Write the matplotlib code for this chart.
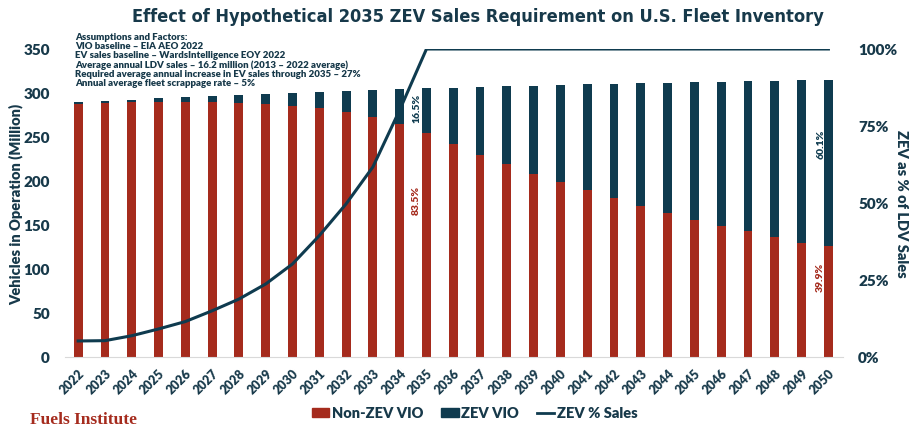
import numpy as np
import matplotlib
matplotlib.use('Agg')
import matplotlib.pyplot as plt
from matplotlib.patches import Patch
from matplotlib.lines import Line2D
from matplotlib import font_manager

plt.rcParams['font.family'] = ['Lato', 'DejaVu Sans']

# 数据: 年份, 非ZEV存量, ZEV存量 (百万辆), ZEV销量占比 (%)
years = list(range(2022, 2051))
non_zev_vio = [287.3, 288.8, 289.5, 290.0, 290.0, 289.5, 289.0, 288.0, 285.0, 282.7,
               278.0, 272.8, 264.8, 254.9, 242.0, 230.0, 219.0, 208.0, 198.8, 189.3,
               180.3, 171.6, 164.0, 156.0, 148.9, 143.2, 136.0, 129.6, 125.6]
zev_vio = [2.2, 2.6, 3.0, 4.0, 6.0, 7.5, 9.0, 11.0, 15.5, 18.9,
           24.7, 31.1, 39.8, 50.4, 63.7, 76.8, 88.6, 100.4, 110.4, 120.6,
           130.4, 139.4, 147.8, 156.2, 163.6, 170.1, 178.0, 184.8, 189.2]
zev_pct_sales = [5.2, 5.3, 6.9, 9.1, 11.5, 15.0, 18.8, 23.7, 30.2, 39.4,
                 49.7, 61.7, 80.2, 100, 100, 100, 100, 100, 100, 100,
                 100, 100, 100, 100, 100, 100, 100, 100, 100]
notes = ['Assumptions and Factors:',
         'VIO baseline \u2013 EIA AEO 2022',
         'EV sales baseline \u2013 WardsIntelligence EOY 2022',
         'Average annual LDV sales \u2013 16.2 million (2013 \u2013 2022 average)',
         'Required average annual increase in EV sales through 2035 \u2013 27%',
         'Annual average fleet scrappage rate \u2013 5%']

RED = '#A52B1D'
NAVY = '#0F3B4F'
TXT = '#17394A'
W = 'heavy'  # 参考图字体很粗

# 标题用窄体字
names = set(f.name for f in font_manager.fontManager.ttflist)
if 'Liberation Sans Narrow' in names:
    title_font = dict(family='Liberation Sans Narrow', fontsize=15)
else:
    title_font = dict(family='DejaVu Sans', stretch='condensed', fontsize=13.1)

fig = plt.figure(figsize=(9.13, 4.31), dpi=100)
ax = fig.add_axes([0.0712, 0.1694, 0.852, 0.7146])
x = np.arange(len(years))

ax.bar(x, non_zev_vio, width=0.33, color=RED)
ax.bar(x, zev_vio, width=0.33, bottom=non_zev_vio, color=NAVY)

ax.set_xlim(-0.49, 28.54)
ax.set_ylim(0, 350)
ax.set_yticks(range(0, 351, 50))
ax.set_xticks(x)
ax.set_xticklabels([str(y) for y in years], rotation=45, ha='right',
                   rotation_mode='anchor', fontsize=9, fontweight=W, color=TXT)
ax.tick_params(axis='x', length=0, pad=7)
ax.tick_params(axis='y', length=0, pad=11, labelsize=11, labelcolor=TXT)
for lab in ax.get_yticklabels():
    lab.set_fontweight(W)
for s in ['top', 'right', 'left']:
    ax.spines[s].set_visible(False)
ax.spines['bottom'].set_color('#D9D9D9')
ax.set_ylabel('Vehicles in Operation (Million)', fontsize=10.5, fontweight=W,
              color=TXT, labelpad=0)

# 右轴: ZEV销量占比
ax2 = ax.twinx()
ax2.plot(x, np.array(zev_pct_sales) / 100.0, color=NAVY, lw=2.2)
ax2.set_ylim(0, 1)
ax2.set_yticks([0, 0.25, 0.5, 0.75, 1.0])
ax2.set_yticklabels(['0%', '25%', '50%', '75%', '100%'], fontsize=11,
                    fontweight=W, color=TXT)
ax2.tick_params(axis='y', length=0, pad=11)
for s in ax2.spines.values():
    s.set_visible(False)
ax2.set_ylabel('ZEV as % of LDV Sales', rotation=270, fontsize=10.5,
               fontweight=W, color=TXT, labelpad=8)

# 百分比标注
i35 = years.index(2035)
i50 = years.index(2050)
share35 = zev_vio[i35] / (zev_vio[i35] + non_zev_vio[i35]) * 100
share50 = zev_vio[i50] / (zev_vio[i50] + non_zev_vio[i50]) * 100
ax.text(i35 - 0.37, 284, '%.1f%%' % share35, rotation=90, ha='center', va='center',
        fontsize=7.5, fontweight=W, color=NAVY)
ax.text(i35 - 0.37, 179, '%.1f%%' % (100 - share35), rotation=90, ha='center',
        va='center', fontsize=7.5, fontweight=W, color=RED)
ax.text(i50 - 0.29, 243, '%.1f%%' % share50, rotation=90, ha='center', va='center',
        fontsize=7.5, fontweight=W, color=NAVY)
ax.text(i50 - 0.29, 91, '%.1f%%' % (100 - share50), rotation=90, ha='center',
        va='center', fontsize=7.5, fontweight=W, color=RED)

# 假设条件说明
fig.text(75 / 913, 1 - 33 / 431, '\n'.join(notes), ha='left', va='top',
         fontsize=6.9, fontweight=W, color=TXT, linespacing=1.0)

fig.text(0.523, 1 - 17 / 431,
         'Effect of Hypothetical 2035 ZEV Sales Requirement on U.S. Fleet Inventory',
         ha='center', va='center', fontweight='bold', color=TXT, **title_font)

fig.text(30 / 913, 1 - 420 / 431, 'Fuels Institute', ha='left', va='center',
         fontsize=12.5, fontweight='bold', color=RED,
         family=['Liberation Serif', 'DejaVu Serif'])

handles = [Patch(color=RED), Patch(color=NAVY), Line2D([0], [0], color=NAVY, lw=2)]
fig.legend(handles, ['Non-ZEV VIO', 'ZEV VIO', 'ZEV % Sales'], ncol=3,
           loc='center', bbox_to_anchor=(0.52, 1 - 414 / 431), frameon=False,
           handlelength=1.2, handleheight=0.6, handletextpad=0.2, columnspacing=1.2,
           prop={'size': 10.5, 'weight': W}, labelcolor=TXT)

fig.savefig('out.png', dpi=100)
